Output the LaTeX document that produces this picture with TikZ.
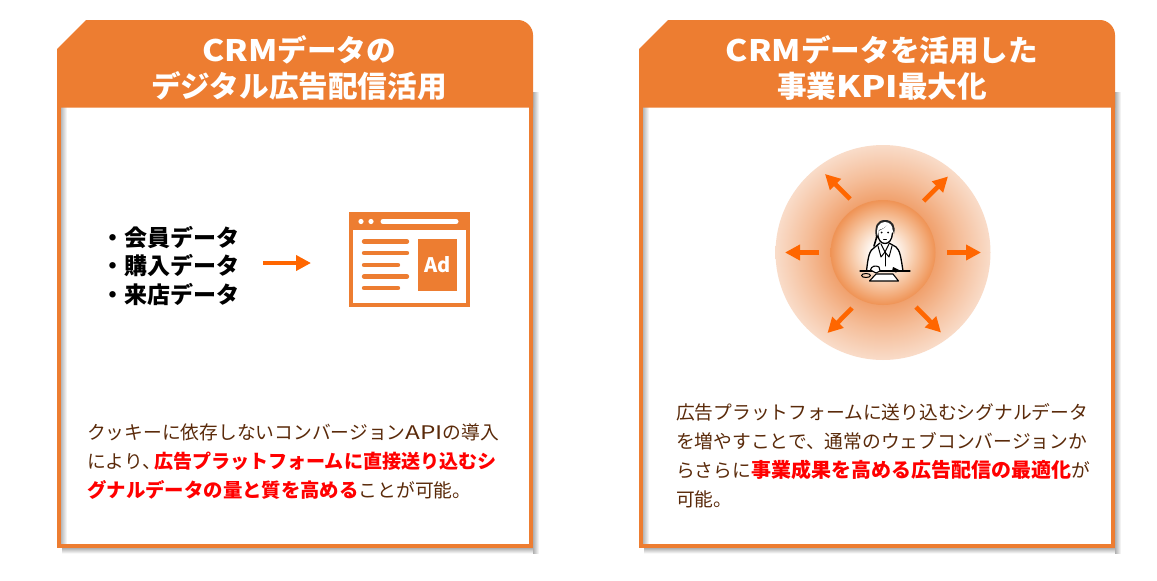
\documentclass[tikz,border=0pt]{standalone}
\usepackage{fontspec}
\setmainfont{Noto Sans CJK JP}
\usetikzlibrary{arrows.meta}
\definecolor{cardorange}{HTML}{ED7D31}
\definecolor{arroworange}{HTML}{FF6600}
\definecolor{bodybrown}{HTML}{5A2A0A}
\definecolor{shadowgray}{HTML}{B0B0B0}
\definecolor{hotred}{HTML}{FF0000}
\definecolor{glowA}{HTML}{F0A06C}
\definecolor{glowB}{HTML}{F5BE9A}
\definecolor{glowC}{HTML}{F9DCC9}
\definecolor{coreA}{HTML}{FFFFFF}
\definecolor{coreB}{HTML}{F8CFB0}
\definecolor{coreC}{HTML}{EF9355}
\pgfdeclareradialshading{outerglow}{\pgfpoint{0bp}{0bp}}{color(0bp)=(glowA);color(12bp)=(glowA);color(18bp)=(glowB);color(25bp)=(glowC);color(50bp)=(glowC)}
\pgfdeclareradialshading{coreglow}{\pgfpoint{0bp}{0bp}}{color(0bp)=(coreA);color(5bp)=(coreA);color(14bp)=(coreB);color(25bp)=(coreC);color(50bp)=(coreC)}
\tikzset{
  cardtitle/.style={text=white,font=\fontsize{29.6}{36.5}\selectfont\bfseries,align=center,inner sep=0pt},
  cardbody/.style={text=bodybrown,font=\fontsize{18.75}{29}\selectfont,align=left,anchor=north west,inner sep=0pt},
  listtext/.style={text=black,font=\fontsize{23}{28}\selectfont\bfseries,align=left,anchor=west,inner sep=0pt},
  flowarrow/.style={draw=arroworange,line width=4.6pt,-{Triangle[length=15pt,width=15pt]}},
  iconline/.style={draw=black,line width=1.3pt,line join=round,line cap=round},
  adbar/.style={draw=cardorange,line width=4.4pt,line cap=round},
}
\newcommand{\hl}[2]{\textcolor{hotred}{\fontsize{#1}{29}\selectfont\textbf{#2}}}
\begin{document}
\begin{tikzpicture}[x=1pt,y=-1pt]
\path[use as bounding box,fill=white] (0,0) rectangle (1157,581);
\foreach \dx in {0,582}{
\begin{scope}[shift={(\dx,0)}]
  % outer soft shadow
  \shade[left color=shadowgray,right color=white] (533,92) rectangle (539,553);
  \shade[top color=shadowgray,bottom color=white] (62,548) rectangle (533,553.5);
  \shade[left color=shadowgray,right color=white] (533,548) rectangle (539,553.5);
  % card frame
  \fill[white] (59,105) rectangle (531,546);
  \shade[left color=shadowgray!90,right color=white] (61,107) rectangle (67,544);
  \draw[cardorange,line width=4.4pt] (59.2,100) -- (59.2,545.8) -- (530.8,545.8) -- (530.8,100);
  \fill[cardorange] (86,20) -- (518,20) .. controls (526,20) and (533,27) .. (533,35)
     -- (533,107.5) -- (57,107.5) -- (57,49) -- cycle;
\end{scope}}
% titles
\node[cardtitle] (titleL) at (299,68) {\scalebox{1.13}[1]{CRM}データの\\デジタル広告配信活用};
\node[cardtitle] (titleR) at (882,68) {\scalebox{1.13}[1]{CRM}データを活用した\\事業\scalebox{1.2}[1]{KPI}最大化};
% left list
\node[listtext] (listA) at (101.5,238) {・会員データ};
\node[listtext] (listB) at (101.5,266) {・購入データ};
\node[listtext] (listC) at (101.5,294) {・来店データ};
% Ad icon
\node[draw=cardorange,line width=4pt,fill=white,minimum width=117pt,minimum height=91pt,inner sep=0pt] (adicon) at (409.5,259.5) {};
\fill[cardorange] (349,212) rectangle (470,230);
\fill[white] (361,221.5) circle (2.6);
\fill[white] (371,221.5) circle (2.6);
\draw[white,line width=5pt,line cap=round] (383,221.5) -- (456,221.5);
\draw[adbar] (364,241.5) -- (407,241.5);
\draw[adbar] (364,253) -- (407,253);
\draw[adbar] (364,265) -- (398,265);
\draw[adbar] (364,276.5) -- (407,276.5);
\draw[adbar] (364,288) -- (398,288);
\node[fill=cardorange,minimum width=39pt,minimum height=52pt,inner sep=0pt,text=white,font=\fontsize{20}{22}\selectfont\bfseries] (adbox) at (437.5,265) {Ad};
% left arrow
\coordinate (flowstart) at (263,263);
\coordinate (flowend) at (311,263);
\draw[flowarrow] (flowstart) -- (flowend);
% glow
\shade[shading=outerglow] (883,252.5) circle (107.5);
\shade[shading=coreglow] (883,252.5) circle (52.5);
% radiating arrows
\coordinate (rA0) at (947,252.5); \coordinate (rA1) at (981,252.5);
\coordinate (rB0) at (819,252.5); \coordinate (rB1) at (785,252.5);
\coordinate (rC0) at (850,199); \coordinate (rC1) at (825,174);
\coordinate (rD0) at (923.5,201); \coordinate (rD1) at (948,176.5);
\coordinate (rE0) at (852,308); \coordinate (rE1) at (827.5,333);
\coordinate (rF0) at (916,307); \coordinate (rF1) at (941,332.5);
\foreach \a in {A,B,C,D,E,F}{\draw[flowarrow] (r\a0) -- (r\a1);}
% person
\fill[white] (866.5,271) .. controls (868,258) and (869,250) .. (875,247) -- (880,243) -- (890,243) -- (896,247)
   .. controls (900,250) and (901,258) .. (903,271) -- cycle;
\draw[iconline] (866.5,271) .. controls (868,258) and (869,250) .. (875,247) -- (880,243);
\draw[iconline] (903,271) .. controls (901,258) and (900,250) .. (896,247) -- (889,243);
\fill[white] (885,231) ellipse (8.5 and 11);
\draw[iconline] (877.5,233) .. controls (878,240) and (881,243.5) .. (885,243.5) .. controls (889,243.5) and (892,240) .. (892.5,233);
\fill[black!85] (876,238) .. controls (874,226) and (877,220) .. (885,220) .. controls (893,220) and (896,226) .. (894,234)
   .. controls (893,229) and (891,226) .. (887,225) .. controls (884,229) and (880,230) .. (878.5,231) -- (878,238) -- cycle;
\fill[white] (877.5,236) .. controls (876,227) and (879,222) .. (885,222) .. controls (890,222) and (893,226) .. (892.5,231)
   .. controls (891,228) and (889.5,226.5) .. (887,225.5) .. controls (884,228) and (881,229.5) .. (878.8,230) -- cycle;
\draw[iconline,line width=1.6pt] (877,236) -- (874,246);
\draw[iconline,line width=1pt] (881,244) -- (885,252) -- (889,244);
\draw[iconline,line width=1pt] (885,252) -- (885,266);
\draw[iconline,line width=1pt] (878,246) -- (881,257) -- (885,252) -- (889,257) -- (892,246);
\fill[black] (881.5,232.5) circle (1) (888,232.5) circle (1);
\draw[iconline,line width=.7pt] (883.5,239) -- (886.5,239);
\draw[iconline] (860,271) -- (910,271);
\fill[black] (880,270) rectangle (896,272);
\fill[white,draw=black,line width=1.1pt,line join=round] (870.5,270) .. controls (871,266) and (876,265) .. (879,267) -- (880,271) -- (876,273) -- cycle;
\draw[iconline,line width=1pt] (866,275.5) ellipse (4.5 and 2);
\fill[white,draw=black,line width=1.1pt,line join=round] (869.5,281) -- (876,274) -- (893,274) -- (898.5,281) -- cycle;
\fill[black] (893,267) -- (899,270) -- (896,272.5) -- (892,271) -- cycle;
% body text
\node[cardbody] (bodyL) at (87,423.5) {クッキーに依存しないコンバージョン\scalebox{1.3}[1]{API}の導入\\により、\hspace{-7pt}\hl{19.05}{広告プラットフォームに直接送り込むシ}\\\hl{19.4}{グナルデータの量と質を高める}ことが可能。};
\node[cardbody] (bodyR) at (676,403.5) {広告プラットフォームに送り込むシグナルデータ\\を増やすことで、通常のウェブコンバージョンか\\らさらに\hl{20}{事業成果を高める広告配信の最適化}が\\可能。};
\end{tikzpicture}
\end{document}
